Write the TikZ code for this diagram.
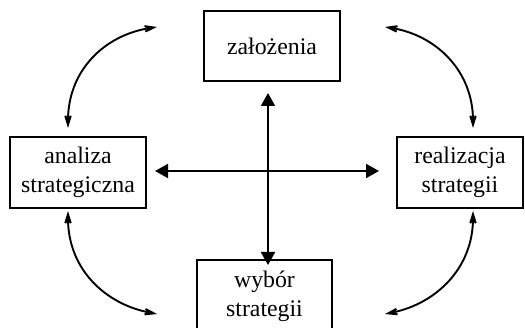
\documentclass[tikz,border=0pt]{standalone}
\usepackage{fontspec}
\setmainfont{Liberation Serif}
\usetikzlibrary{arrows.meta}
\begin{document}
\begin{tikzpicture}[x=1pt,y=1pt,
  box/.style={draw,line width=2pt,inner sep=0pt,align=center,
    font=\fontsize{23.8}{29}\selectfont},
  straight/.style={line width=2pt,{Triangle[length=13pt,width=14pt]}-{Triangle[length=13pt,width=14pt]}},
  curved/.style={line width=1.9pt,{Stealth[length=21pt,width=13pt,inset=12pt]}-{Stealth[length=21pt,width=13pt,inset=12pt]}}]
\useasboundingbox (0,0) rectangle (525,328);
\node[box,minimum width=136pt,minimum height=70pt] (zal) at (272,282) {założenia};
\node[box,minimum width=136pt,minimum height=71pt] (ana) at (78,155.5) {analiza\\strategiczna};
\node[box,minimum width=126pt,minimum height=71pt] (rea) at (460,155.5) {realizacja\\strategii};
\node[box,minimum width=135pt,minimum height=71pt] (wyb) at (264.5,32) {wybór\\strategii};
% endpoints of straight connectors
\coordinate (vt) at (268,235);
\coordinate (vb) at (268,63);
\coordinate (hl) at (155,157);
\coordinate (hr) at (379,157);
\draw[straight] (vt) -- (vb);
\draw[straight] (hl) -- (hr);
% endpoints of curved connectors
\coordinate (tl1) at (68,200);
\coordinate (tl2) at (157,301);
\coordinate (tr1) at (473,200);
\coordinate (tr2) at (385,301);
\coordinate (bl1) at (68,117);
\coordinate (bl2) at (157,14);
\coordinate (br1) at (473,117);
\coordinate (br2) at (385,14);
\draw[curved] (tl1) .. controls (68,258) and (105,293) .. (tl2);
\draw[curved] (tr1) .. controls (473,258) and (435,293) .. (tr2);
\draw[curved] (bl1) .. controls (68,59) and (105,24) .. (bl2);
\draw[curved] (br1) .. controls (473,59) and (435,24) .. (br2);
\end{tikzpicture}
\end{document}
